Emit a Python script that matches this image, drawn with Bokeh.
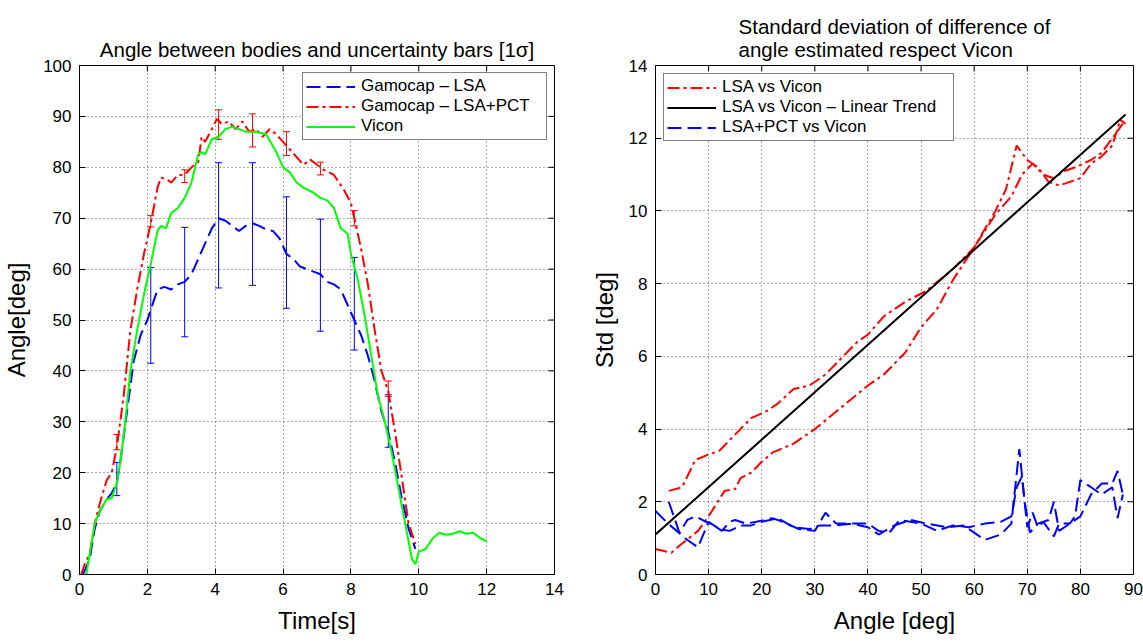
import math
from bokeh.plotting import figure
from bokeh.layouts import row
from bokeh.models import ColumnDataSource, Whisker, TeeHead, Legend, LegendItem, FixedTicker
from bokeh.embed import file_html
from bokeh.resources import INLINE

FONT = "Liberation Sans"

# ---------------- Left chart data ----------------
vicon_t = [0.2, 0.3, 0.45, 0.6, 0.8, 0.95, 1.1, 1.2, 1.35, 1.5, 1.7, 1.9, 2.1, 2.3, 2.4, 2.55, 2.7, 2.9, 3.1,
           3.3, 3.5, 3.6, 3.7, 3.9, 4.1, 4.3, 4.5, 4.7, 4.9, 5.2, 5.5, 5.8, 6.0, 6.2, 6.4, 6.6, 6.9, 7.1, 7.3,
           7.5, 7.7, 7.9, 8.0, 8.2, 8.4, 8.6, 8.8, 9.0, 9.2, 9.4, 9.6, 9.8, 9.9, 10.0, 10.2, 10.4, 10.6, 10.8,
           11.0, 11.2, 11.4, 11.6, 11.8, 12.0]
vicon_a = [0, 4, 10, 12.5, 14.8, 15, 18, 22, 30, 40, 48, 55, 61, 67.5, 68.5, 68, 71, 72, 74,
           77, 82.5, 83, 82.5, 85.5, 86, 87.5, 88, 87.5, 87, 87, 86.5, 83, 80, 79, 77, 76, 75, 74, 73.5,
           72, 68, 67, 63, 58, 51, 43, 35, 30, 24, 17, 10, 3, 2, 4.5, 5, 7, 8.2, 7.8,
           8, 8.5, 8, 8.2, 7.2, 6.5]

pct_t = [0.05, 0.15, 0.3, 0.45, 0.6, 0.8, 0.95, 1.1, 1.3, 1.5, 1.7, 1.9, 2.1, 2.3, 2.4, 2.6, 2.7, 2.9, 3.1,
         3.3, 3.5, 3.6, 3.7, 3.9, 4.05, 4.2, 4.4, 4.6, 4.8, 5.0, 5.2, 5.4, 5.6, 5.8, 6.0, 6.2, 6.4, 6.6,
         6.8, 7.0, 7.2, 7.5, 7.8, 8.0, 8.1, 8.3, 8.5, 8.7, 8.9, 9.1, 9.3, 9.5, 9.7, 9.9]
pct_a = [0, 2, 4, 10, 14, 18.5, 20, 25, 35, 48, 56, 63, 69, 76, 78, 77.5, 77, 78.5, 78.5,
         80, 81, 86, 85, 87.5, 89.5, 88.5, 89, 87.5, 89, 87, 87.5, 86, 87.5, 86.5, 85, 83.5, 82, 80.5,
         81.5, 80.5, 79.5, 78.5, 75.5, 73, 70, 64, 57, 48, 40, 36, 28, 19, 10, 6]

lsa_t = [0.1, 0.3, 0.45, 0.6, 0.8, 0.95, 1.1, 1.2, 1.4, 1.6, 1.8, 2.0, 2.1, 2.3, 2.5, 2.7, 2.9, 3.1, 3.3,
         3.5, 3.7, 3.9, 4.1, 4.3, 4.5, 4.7, 4.9, 5.1, 5.3, 5.5, 5.7, 5.9, 6.1, 6.3, 6.5, 6.7, 6.9, 7.1,
         7.3, 7.5, 7.7, 7.9, 8.1, 8.3, 8.5, 8.7, 8.9, 9.1, 9.3, 9.5, 9.7, 9.9]
lsa_a = [0, 3, 9, 12.5, 14.7, 16, 18, 22, 32, 42, 47, 50, 52, 56, 56.5, 56, 57, 57.5, 59,
         62, 65, 68, 70, 69.5, 68.5, 67.5, 68.5, 69, 68.5, 67.8, 67.5, 66, 63, 62, 60.5, 60, 59.5, 59,
         57.5, 57, 56, 53, 50, 47, 43, 38, 32, 28, 22, 15, 9, 5]

bar_t = [1.1, 2.1, 3.1, 4.1, 5.1, 6.1, 7.1, 8.1, 9.1]
lsa_bar_lo = [15.5, 41.5, 46.7, 56.3, 56.8, 52.3, 47.8, 44.1, 25.0]
lsa_bar_hi = [22.0, 60.3, 68.2, 80.9, 80.9, 74.2, 69.8, 62.3, 35.3]
pct_bar_lo = [24.5, 68.3, 77.0, 85.5, 84.0, 82.3, 78.5, 68.5, 35.0]
pct_bar_hi = [27.5, 70.5, 79.5, 91.3, 90.5, 87.0, 81.0, 71.5, 38.0]

left_xticks = [0, 2, 4, 6, 8, 10, 12, 14]
left_yticks = [0, 10, 20, 30, 40, 50, 60, 70, 80, 90, 100]

# ---------------- Right chart data ----------------
lsa_up_x = [0, 3, 5, 8, 10, 13, 15, 16, 18, 20, 22, 26, 30, 35, 40, 43, 47, 50, 53, 56, 60, 64, 67, 69,
            71, 73, 75, 77, 79, 82, 84, 86, 88]
lsa_up_y = [0.7, 0.6, 0.85, 1.2, 1.6, 2.3, 2.35, 2.65, 2.8, 3.1, 3.35, 3.6, 4.0, 4.6, 5.2, 5.5, 6.1, 6.8,
            7.3, 8.1, 9.0, 9.9, 10.4, 11.0, 11.3, 11.0, 10.9, 11.1, 11.2, 11.4, 11.6, 12.0, 12.4]
lsa_dn_x = [2.5, 5, 7.5, 10, 12, 16, 18, 21, 23, 26, 29, 32, 36, 38, 40, 43, 47, 51, 56, 60, 64, 66, 68,
            70, 72, 74, 76, 78, 80, 82, 84, 86, 87.5, 88.5]
lsa_dn_y = [2.3, 2.4, 3.15, 3.3, 3.4, 4.0, 4.3, 4.5, 4.7, 5.1, 5.2, 5.5, 6.1, 6.4, 6.6, 7.1, 7.5, 7.8, 8.4,
            9.0, 10.0, 10.6, 11.8, 11.4, 11.2, 10.8, 10.7, 10.8, 10.9, 11.3, 11.5, 11.8, 12.5, 12.4]

trend_x = [0, 88.5]
trend_y = [1.1, 12.65]

pct_a_x = [2.5, 4.5, 6, 7.5, 9.5, 11, 12.5, 14, 15, 17, 19, 22, 24, 27, 30, 32, 34, 37, 40, 42, 44, 46,
           48, 50, 53, 56, 59, 62, 65, 67, 68, 69, 70, 71, 72, 73, 75, 76, 78, 79, 80, 82, 84, 86, 87, 88]
pct_a_y = [2.0, 1.15, 1.5, 1.6, 1.45, 1.35, 1.2, 1.45, 1.5, 1.4, 1.45, 1.55, 1.45, 1.25, 1.2, 1.7, 1.4,
           1.4, 1.4, 1.2, 1.15, 1.5, 1.45, 1.4, 1.2, 1.35, 1.3, 1.4, 1.45, 1.6, 2.4, 2.7, 1.3, 1.7, 1.3,
           1.45, 1.05, 1.4, 1.4, 1.6, 2.6, 2.4, 2.2, 2.4, 1.55, 2.2]
pct_b_x = [0, 2, 4, 6, 8, 10, 12, 14, 16, 18, 20, 23, 26, 29, 31, 34, 37, 40, 42, 45, 48, 51, 55, 58, 60,
           62, 65, 67, 68.5, 69.5, 70.5, 72, 74, 75, 76, 78, 80, 82, 84, 86, 87, 88]
pct_b_y = [1.75, 1.45, 1.2, 0.95, 0.75, 1.45, 1.25, 1.2, 1.35, 1.35, 1.45, 1.55, 1.3, 1.25, 1.35, 1.35,
           1.4, 1.3, 1.1, 1.35, 1.5, 1.4, 1.3, 1.35, 1.15, 0.95, 1.1, 1.4, 3.45, 2.0, 1.15, 1.4, 1.5, 2.0,
           1.2, 1.4, 1.6, 2.2, 2.5, 2.5, 2.85, 2.2]

right_xticks = [0, 10, 20, 30, 40, 50, 60, 70, 80, 90]
right_yticks = [0, 2, 4, 6, 8, 10, 12, 14]

BLUE = "#0000ff"
RED = "#ff0000"
GREEN = "#00ff00"
DASH = "14 6"
DASHDOT = "12 4 3 4"


def style(p, xt, yt, ylab_standoff):
    p.outline_line_color = "black"
    p.outline_line_width = 1
    p.background_fill_color = "white"
    p.border_fill_color = "white"
    p.xaxis.ticker = FixedTicker(ticks=xt)
    p.yaxis.ticker = FixedTicker(ticks=yt)
    for ax in (p.xaxis[0], p.yaxis[0]):
        ax.major_tick_in = 6
        ax.major_tick_out = 0
        ax.minor_tick_in = 0
        ax.minor_tick_out = 0
        ax.axis_line_color = "black"
        ax.major_tick_line_color = "black"
        ax.major_label_text_font = FONT
        ax.major_label_text_font_size = "17px"
        ax.major_label_text_color = "black"
        ax.axis_label_text_font = FONT
        ax.axis_label_text_font_size = "24px"
        ax.axis_label_text_font_style = "normal"
        ax.axis_label_text_color = "black"
    p.xaxis.major_label_standoff = 8
    p.yaxis.major_label_standoff = 8
    p.xaxis.axis_label_standoff = 9
    p.yaxis.axis_label_standoff = ylab_standoff
    for g in (p.xgrid[0], p.ygrid[0]):
        g.grid_line_color = "#555555"
        g.grid_line_dash = "1 3"
        g.grid_line_width = 1
    p.xgrid.ticker = FixedTicker(ticks=xt)
    p.ygrid.ticker = FixedTicker(ticks=yt)
    # mirrored tick marks on the top and right edges of the box (clipped to the frame)
    xr, yr = p.x_range, p.y_range
    p.scatter(xt, [yr.end] * len(xt), marker="dash", size=12, angle=math.pi / 2,
              line_color="black", line_width=1)
    p.scatter([xr.end] * len(yt), yt, marker="dash", size=12, angle=0,
              line_color="black", line_width=1)
    p.title.text_font = FONT
    p.title.text_font_size = "20.5px"
    p.title.text_font_style = "normal"
    p.title.align = "center"
    p.title.text_color = "black"
    p.title.standoff = 9


# ---------------- Left figure ----------------
p1 = figure(width=566, height=636, x_range=(0, 14), y_range=(0, 100),
            output_backend="svg", toolbar_location=None,
            title="Angle between bodies and uncertainty bars [1\u03c3]",
            x_axis_label="Time[s]", y_axis_label="Angle[deg]",
            min_border_left=77, min_border_right=12, min_border_top=65, min_border_bottom=60)
style(p1, left_xticks, left_yticks, 10)

r_lsa = p1.line(lsa_t, lsa_a, line_color=BLUE, line_width=2, line_dash=DASH)
r_pct = p1.line(pct_t, pct_a, line_color=RED, line_width=2, line_dash=DASHDOT)
r_vic = p1.line(vicon_t, vicon_a, line_color=GREEN, line_width=2)

src_b = ColumnDataSource(dict(t=bar_t, lo=lsa_bar_lo, hi=lsa_bar_hi))
src_r = ColumnDataSource(dict(t=bar_t, lo=pct_bar_lo, hi=pct_bar_hi))
for src, col in ((src_b, BLUE), (src_r, RED)):
    w = Whisker(source=src, base="t", lower="lo", upper="hi", line_color=col, line_width=1,
                upper_head=TeeHead(size=7, line_color=col, line_width=1),
                lower_head=TeeHead(size=7, line_color=col, line_width=1))
    p1.add_layout(w)

leg1 = Legend(items=[LegendItem(label="Gamocap \u2013 LSA", renderers=[r_lsa]),
                     LegendItem(label="Gamocap \u2013 LSA+PCT", renderers=[r_pct]),
                     LegendItem(label="Vicon", renderers=[r_vic])],
              location="top_right", margin=7, label_width=182)
p1.add_layout(leg1)

# ---------------- Right figure ----------------
p2 = figure(width=577, height=636, x_range=(0, 90), y_range=(0, 14),
            output_backend="svg", toolbar_location=None,
            title="Standard deviation of difference of\nangle estimated respect Vicon",
            x_axis_label="Angle [deg]", y_axis_label="Std [deg]",
            min_border_left=89, min_border_right=10, min_border_top=65, min_border_bottom=60)
style(p2, right_xticks, right_yticks, 8)

r_l1 = p2.line(lsa_up_x, lsa_up_y, line_color=RED, line_width=2, line_dash=DASHDOT)
p2.line(lsa_dn_x, lsa_dn_y, line_color=RED, line_width=2, line_dash=DASHDOT)
r_tr = p2.line(trend_x, trend_y, line_color="black", line_width=2)
r_pc = p2.line(pct_a_x, pct_a_y, line_color=BLUE, line_width=2, line_dash=DASH)
p2.line(pct_b_x, pct_b_y, line_color=BLUE, line_width=2, line_dash=DASH)

leg2 = Legend(items=[LegendItem(label="LSA vs Vicon", renderers=[r_l1]),
                     LegendItem(label="LSA vs Vicon \u2013 Linear Trend", renderers=[r_tr]),
                     LegendItem(label="LSA+PCT vs Vicon", renderers=[r_pc])],
              location="top_left", margin=8, label_width=228)
p2.add_layout(leg2)

for lg in (leg1, leg2):
    lg.label_text_font = FONT
    lg.label_text_font_size = "17px"
    lg.label_text_color = "black"
    lg.glyph_width = 49
    lg.glyph_height = 17
    lg.label_height = 17
    lg.spacing = 0
    lg.padding = 3
    lg.label_standoff = 6
    lg.border_line_color = "black"
    lg.border_line_width = 1
    lg.background_fill_alpha = 1.0

layout = row(p1, p2)
open("out.html", "w").write(file_html(layout, INLINE))
